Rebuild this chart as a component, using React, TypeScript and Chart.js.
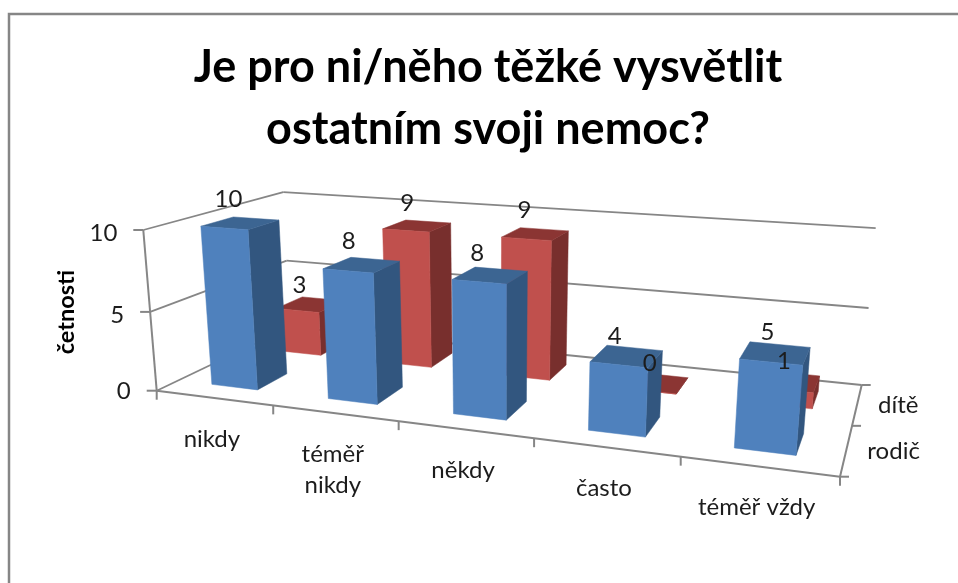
import React, { useEffect, useRef } from "react";
import { Chart, registerables } from "chart.js";

Chart.register(...registerables);

// --- data ---
const categories: (string | string[])[] = ["nikdy", ["téměř", "nikdy"], "někdy", "často", "téměř vždy"];
const seriesNames = ["rodič", "dítě"];
const rodicValues = [10, 8, 8, 4, 5];
const diteValues = [3, 9, 9, 0, 1];
const titleLines = ["Je pro ni/něho těžké vysvětlit", "ostatním svoji nemoc?"];
const valueAxisTitle = "četnosti";

// --- style: camera (screen corners of the plot box) ---
type P = [number, number];
const FLOOR: P[] = [[156.7, 390.7], [840, 476.7], [861.7, 385], [290, 327]];
const TOP_FRONT_LEFT: P = [143.3, 230];
const TOP_BACK_RIGHT_X = 875.7;
const FONT = "Lato, Carlito, sans-serif";
const AXIS = "#868686";
const TEXT = "#1c1c1c";
const DEPTH_PCT = 0.44;
const FACES = [
  { front: "#4F81BD", side: "#32567F", top: "#3C6592" },
  { front: "#C0504D", side: "#782F2D", top: "#8B3533" },
];
// nudges of value labels relative to the bar's top-face centre
const LABEL_NUDGE: P[][] = [
  [[-12, -24], [-13, -24], [-13, -22], [-12, -20], [-8, -21]],
  [[-11, -19], [-10, -23], [-11, -24], [-7, -20], [-5, -20]],
];

// a 3x4 camera: floor homography plus a height column
function camera(q: P[], topA: P, topCx: number) {
  const [[x0, y0], [x1, y1], [x2, y2], [x3, y3]] = q;
  const sx = x0 - x1 + x2 - x3, sy = y0 - y1 + y2 - y3;
  const dx1 = x1 - x2, dx2 = x3 - x2, dy1 = y1 - y2, dy2 = y3 - y2;
  const det = dx1 * dy2 - dx2 * dy1;
  const g = (sx * dy2 - dx2 * sy) / det;
  const i = (dx1 * sy - sx * dy1) / det;
  const a = x1 - x0 + g * x1, b = x3 - x0 + i * x3;
  const d = y1 - y0 + g * y1, e = y3 - y0 + i * y3;
  const wc = g + i + 1;
  const r = ((topA[0] - x0) - (topCx - x2) * wc) / (topCx - topA[0]);
  const p = topA[0] * (1 + r) - x0;
  const s = topA[1] * (1 + r) - y0;
  return (u: number, v: number, h: number): P => {
    const w = g * u + i * v + 1 + r * h;
    return [(a * u + b * v + x0 + p * h) / w, (d * u + e * v + y0 + s * h) / w];
  };
}
const project = camera(FLOOR, TOP_FRONT_LEFT, TOP_BACK_RIGHT_X);

function poly(ctx: CanvasRenderingContext2D, pts: P[], fill: string) {
  ctx.beginPath();
  pts.forEach((p, i) => (i ? ctx.lineTo(p[0], p[1]) : ctx.moveTo(p[0], p[1])));
  ctx.closePath();
  ctx.fillStyle = fill;
  ctx.fill();
  ctx.strokeStyle = fill;
  ctx.lineWidth = 0.5;
  ctx.stroke();
}
function seg(ctx: CanvasRenderingContext2D, a: P, b: P, w = 2) {
  ctx.beginPath();
  ctx.moveTo(a[0], a[1]);
  ctx.lineTo(b[0], b[1]);
  ctx.strokeStyle = AXIS;
  ctx.lineWidth = w;
  ctx.stroke();
}

const bars3d = {
  id: "bars3d",
  beforeDraw(chart: any) {
    const ctx = chart.ctx;
    ctx.save();
    ctx.strokeStyle = AXIS;
    ctx.lineWidth = 2.5;
    ctx.beginPath();
    ctx.moveTo(9, 583);
    ctx.lineTo(9, 14);
    ctx.lineTo(958, 14);
    ctx.stroke();
    ctx.restore();
  },
  beforeDatasetsDraw(chart: any) {
    const ctx: CanvasRenderingContext2D = chart.ctx;
    const { x: xs, y: ys, z: zs } = chart.scales;
    const area = chart.chartArea;
    const hOf = (val: number) => (val - ys.min) / (ys.max - ys.min);
    const vOf = (i: number) => (zs.getPixelForValue(i) - zs.left) / zs.width;
    const uOf = (px: number) => (px - area.left) / area.width;
    ctx.save();

    // walls and gridlines
    for (const t of ys.ticks) {
      const h = hOf(t.value);
      seg(ctx, project(0, 0, h), project(0, 1, h), 1.8);
      seg(ctx, project(0, 1, h), project(1, 1, h), 1.8);
    }
    // value axis
    seg(ctx, project(0, 0, 0), project(0, 0, 1));
    ctx.font = `24px ${FONT}`;
    ctx.fillStyle = TEXT;
    ctx.textBaseline = "middle";
    ctx.textAlign = "right";
    for (const t of ys.ticks) {
      const p = project(0, 0, hOf(t.value));
      seg(ctx, p, [p[0] - 10, p[1]]);
      ctx.fillStyle = TEXT;
      ctx.fillText(String(t.value), p[0] - 26, p[1] + (t.value === 0 ? 1 : 3));
    }
    // category axis
    seg(ctx, project(0, 0, 0), project(1, 0, 0));
    const n = categories.length;
    for (let i = 0; i <= n; i++) {
      const p = project(i / n, 0, 0);
      seg(ctx, p, [p[0], p[1] + 9]);
    }
    ctx.textAlign = "center";
    ctx.fillStyle = TEXT;
    categories.forEach((c, i) => {
      const p = project(uOf(xs.getPixelForValue(i)), 0, 0);
      const lines = Array.isArray(c) ? c : [c];
      lines.forEach((l, k) => ctx.fillText(l, p[0] - 2, p[1] + 41 + k * 31));
    });
    // series (depth) axis
    seg(ctx, project(1, 0, 0), project(1, 1, 0));
    for (const v of [0, 0.5, 1]) {
      const p = project(1, v, 0);
      seg(ctx, p, [p[0] + 9, p[1]]);
    }
    ctx.textAlign = "left";
    ctx.fillStyle = TEXT;
    seriesNames.forEach((s, i) => {
      const p = project(1, vOf(i), 0);
      ctx.fillText(s, p[0] + 21, p[1] + 1);
    });

    // axis title
    ctx.save();
    ctx.translate(66, 312);
    ctx.rotate(-Math.PI / 2);
    ctx.textAlign = "center";
    ctx.font = `bold 23.5px ${FONT}`;
    ctx.fillStyle = "#000";
    ctx.fillText(valueAxisTitle, 0, 0);
    ctx.restore();

    // bars, back series first
    const labels: { t: string; x: number; y: number }[] = [];
    for (const ds of [1, 0]) {
      const meta = chart.getDatasetMeta(ds);
      const vc = vOf(ds);
      const dv = (0.5 * DEPTH_PCT) / 2;
      const f = FACES[ds];
      meta.data.forEach((el: any, i: number) => {
        const u0 = uOf(el.x - el.width / 2), u1 = uOf(el.x + el.width / 2);
        const v0 = vc - dv, v1 = vc + dv;
        const h = (el.base - el.y) / area.height;
        poly(ctx, [project(u1, v0, 0), project(u1, v1, 0), project(u1, v1, h), project(u1, v0, h)], f.side);
        poly(ctx, [project(u0, v0, h), project(u1, v0, h), project(u1, v1, h), project(u0, v1, h)], f.top);
        poly(ctx, [project(u0, v0, 0), project(u1, v0, 0), project(u1, v0, h), project(u0, v0, h)], f.front);
        const c = project((u0 + u1) / 2, vc, h);
        const nudge = LABEL_NUDGE[ds][i];
        labels.push({
          t: String(chart.data.datasets[ds].data[i]),
          x: c[0] + nudge[0],
          y: c[1] + nudge[1],
        });
      });
    }
    ctx.font = `24px ${FONT}`;
    ctx.textAlign = "center";
    ctx.textBaseline = "middle";
    ctx.fillStyle = TEXT;
    labels.forEach((l) => ctx.fillText(l.t, l.x, l.y));
    ctx.restore();
    return false;
  },
};

export default function App() {
  const ref = useRef<HTMLCanvasElement>(null);
  useEffect(() => {
    const chart = new Chart(ref.current!, {
      type: "bar",
      data: {
        labels: categories as any,
        datasets: [
          { label: seriesNames[0], data: rodicValues, backgroundColor: FACES[0].front },
          { label: seriesNames[1], data: diteValues, backgroundColor: FACES[1].front },
        ],
      },
      plugins: [bars3d as any],
      options: {
        animation: false,
        responsive: false,
        layout: { padding: { left: 18 } },
        datasets: { bar: { grouped: false, categoryPercentage: 0.4, barPercentage: 1 } },
        plugins: {
          legend: { display: false },
          tooltip: { enabled: false },
          title: {
            display: true,
            text: titleLines,
            color: "#000",
            font: { family: FONT, size: 45, weight: "bold", lineHeight: 1.39 },
            padding: { top: 36, bottom: 10 },
          },
        },
        scales: {
          x: { display: false },
          y: { display: false, min: 0, max: 10, ticks: { stepSize: 5 } },
          z: { axis: "x", type: "category", labels: seriesNames, offset: true, display: false },
        },
      } as any,
    });
    return () => chart.destroy();
  }, []);
  return (
    <div style={{ position: "fixed", left: 0, top: 0, width: 958, height: 583, background: "#fff" }}>
      <canvas ref={ref} width={958} height={583} style={{ display: "block", filter: "blur(0.4px)" }} />
    </div>
  );
}
